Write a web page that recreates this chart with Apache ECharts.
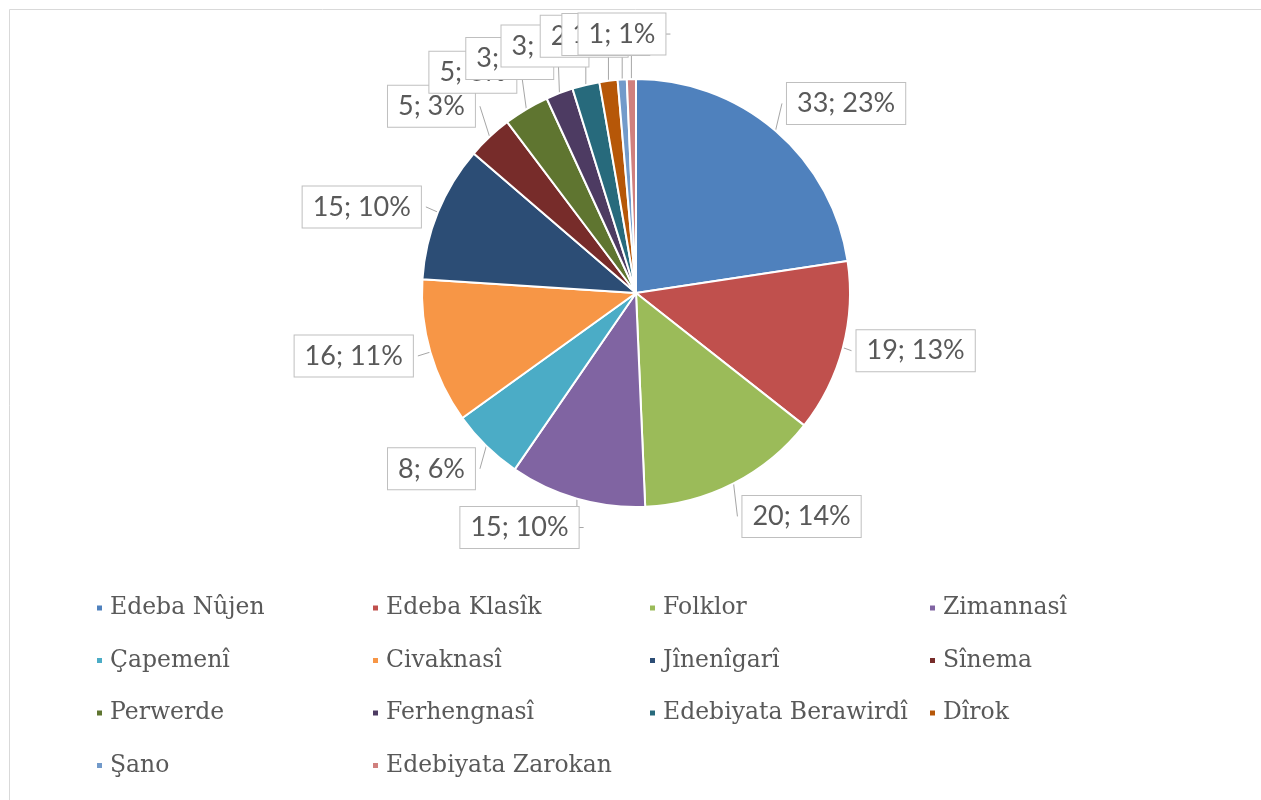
<!DOCTYPE html>
<html>
<head>
<meta charset="utf-8">
<script src="https://cdn.jsdelivr.net/npm/echarts@6/dist/echarts.min.js"></script>
<style>
  html, body { margin: 0; padding: 0; background: #fff; }
  #main { width: 1261px; height: 800px; }
</style>
</head>
<body>
<div id="main"></div>
<script>
// kategorî û hejmar
const categories = [
  "Edeba Nûjen", "Edeba Klasîk", "Folklor", "Zimannasî",
  "Çapemenî", "Civaknasî", "Jînenîgarî", "Sînema",
  "Perwerde", "Ferhengnasî", "Edebiyata Berawirdî", "Dîrok",
  "Şano", "Edebiyata Zarokan"
];
const values = [33, 19, 20, 15, 8, 16, 15, 5, 5, 3, 3, 2, 1, 1];
const colors = [
  "#4F81BD", "#C0504D", "#9BBB59", "#8064A2", "#4BACC6", "#F79646",
  "#2C4D75", "#772C2A", "#5F7530", "#4D3B62", "#276A7C", "#B65708",
  "#729ACA", "#D0807E"
];
// dirêjahiya xeta etîketê (wek Excel, yên biçûk ber bi jor)
const lineLen = [36, 12, 37, 30, 32, 14, 14, 42, 43, 37, 40, 45, 45, 45];
const lineLen2 = [-17, -3, -13, -15, -16, -1, -1, -19, -17, -12, -17, -30, -35, -40];

const chart = echarts.init(document.getElementById("main"));

// legend bi 4 stûnan (rêz bi rêz wek Excel)
const legendCols = [0, 1, 2, 3].map(function (c) {
  return categories.filter(function (n, i) { return i % 4 === c; });
});
const legendLeft = [95, 371, 648, 928];

const option = {
  backgroundColor: "#fff",
  color: colors,
  animation: false,
  graphic: [{
    type: "rect",
    left: 7, top: 7,
    shape: { width: 1270, height: 800 },
    style: { fill: "none", stroke: "#d9d9d9", lineWidth: 1 }
  }],
  legend: legendCols.map(function (names, c) {
    return {
      orient: "vertical",
      left: legendLeft[c],
      top: 595,
      padding: 0,
      data: names,
      icon: "rect",
      itemWidth: 7,
      itemHeight: 7,
      itemGap: 26.5,
      selectedMode: false,
      textStyle: {
        fontFamily: "DejaVu Serif",
        fontSize: 23.5,
        lineHeight: 26,
        color: "#595959",
        padding: [0, 0, 0, 2]
      }
    };
  }),
  series: [{
    type: "pie",
    center: [636, 293],
    radius: [0, 214],
    startAngle: 90,
    clockwise: true,
    percentPrecision: 0,
    avoidLabelOverlap: false,
    labelLayout: { hideOverlap: false },
    itemStyle: { borderColor: "#fff", borderWidth: 2 },
    label: {
      show: true,
      position: "outside",
      formatter: "{c}; {d}%",
      fontFamily: "Lato",
      fontSize: 27,
      color: "#595959",
      backgroundColor: "#fff",
      borderColor: "#bfbfbf",
      borderWidth: 1,
      padding: [8, 10, 6, 10]
    },
    labelLine: {
      show: true,
      length: 14,
      length2: 6,
      lineStyle: { color: "#a6a6a6", width: 1 }
    },
    emphasis: { disabled: true },
    data: categories.map(function (n, i) {
      return {
        name: n,
        value: values[i],
        labelLine: { length: lineLen[i], length2: lineLen2[i] }
      };
    })
  }]
};

chart.setOption(option);
</script>
</body>
</html>
